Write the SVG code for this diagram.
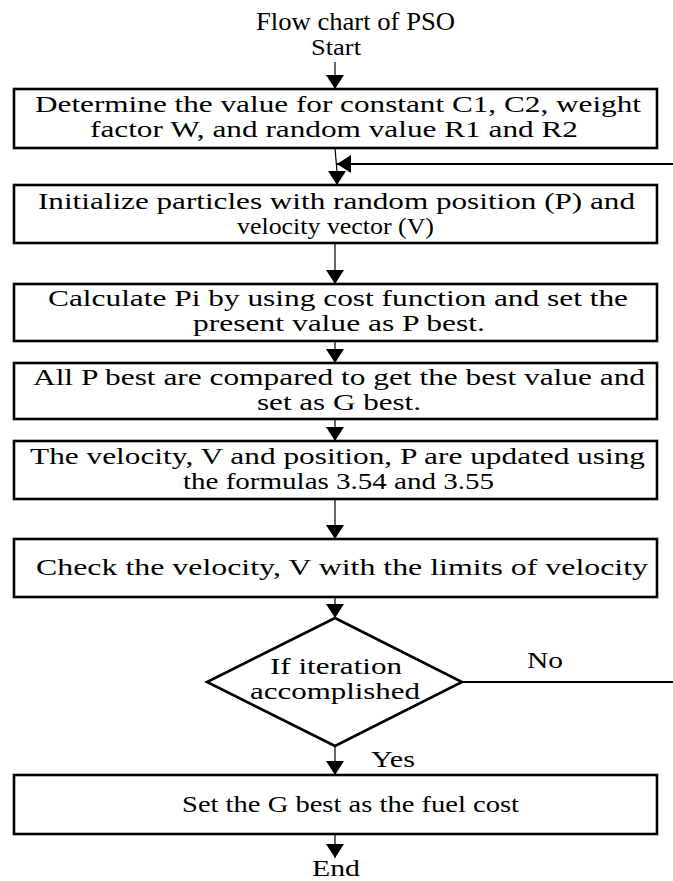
<svg xmlns="http://www.w3.org/2000/svg" width="673" height="881" viewBox="0 0 673 881">
<style>
text{font-family:"Liberation Serif","Times New Roman",serif;fill:#000;text-anchor:middle}
.t{font-size:24px}
.box{fill:#fff;stroke:#000;stroke-width:2.6}
.c{fill:none;stroke:#000;stroke-width:1.2}
.no{fill:none;stroke:#000;stroke-width:2}
</style>
<defs>
<marker id="ah" markerUnits="userSpaceOnUse" markerWidth="20" markerHeight="20" viewBox="0 0 20 20" refX="14" refY="10" orient="auto">
<path d="M0,1 L14,10 L0,19 Z" fill="#000"/>
</marker>
</defs>
<text class="t" x="355.5" y="30" style="font-size:25px" textLength="199" lengthAdjust="spacingAndGlyphs">Flow chart of PSO</text>
<text class="t" x="336" y="55" style="font-size:23px" textLength="50" lengthAdjust="spacingAndGlyphs">Start</text>
<g id="connectors">
<line class="c" x1="335" y1="62" x2="335" y2="89" marker-end="url(#ah)"/>
<polyline class="c" points="335,148 337,172 337,185" marker-end="url(#ah)"/>
<line class="c" x1="673" y1="164" x2="337" y2="164" marker-end="url(#ah)" style="stroke-width:2"/>
<line class="c" x1="335" y1="243" x2="335" y2="284" marker-end="url(#ah)"/>
<line class="c" x1="335" y1="341" x2="335" y2="363" marker-end="url(#ah)"/>
<line class="c" x1="335" y1="419" x2="335" y2="441" marker-end="url(#ah)"/>
<line class="c" x1="335" y1="499" x2="335" y2="539" marker-end="url(#ah)"/>
<line class="c" x1="335" y1="597" x2="335" y2="618" marker-end="url(#ah)"/>
<line class="no" x1="462" y1="682" x2="673" y2="682"/>
<line class="c" x1="335" y1="746" x2="335" y2="775" marker-end="url(#ah)"/>
<line class="c" x1="335" y1="834" x2="335" y2="858" marker-end="url(#ah)"/>
<text class="t" x="545" y="668" style="font-size:23px" textLength="36" lengthAdjust="spacingAndGlyphs">No</text>
<text class="t" x="393" y="767" style="font-size:23px" textLength="44" lengthAdjust="spacingAndGlyphs">Yes</text>
</g>
<g id="n1">
<rect class="box" x="14" y="89" width="643" height="59"/>
<text class="t" x="338" y="112" textLength="606" lengthAdjust="spacingAndGlyphs">Determine the value for constant C1, C2, weight</text>
<text class="t" x="334" y="137" textLength="488" lengthAdjust="spacingAndGlyphs">factor W, and random value R1 and R2</text>
</g>
<g id="n2">
<rect class="box" x="14" y="185" width="643" height="58"/>
<text class="t" x="336.5" y="209" textLength="597" lengthAdjust="spacingAndGlyphs">Initialize particles with random position (P) and</text>
<text class="t" x="335.5" y="234" textLength="197" lengthAdjust="spacingAndGlyphs">velocity vector (V)</text>
</g>
<g id="n3">
<rect class="box" x="14" y="284" width="643" height="57"/>
<text class="t" x="338" y="306" textLength="580" lengthAdjust="spacingAndGlyphs">Calculate Pi by using cost function and set the</text>
<text class="t" x="339" y="331" textLength="292" lengthAdjust="spacingAndGlyphs">present value as P best.</text>
</g>
<g id="n4">
<rect class="box" x="14" y="363" width="643" height="56"/>
<text class="t" x="339" y="385" textLength="612" lengthAdjust="spacingAndGlyphs">All P best are compared to get the best value and</text>
<text class="t" x="339" y="410" textLength="164" lengthAdjust="spacingAndGlyphs">set as G best.</text>
</g>
<g id="n5">
<rect class="box" x="14" y="441" width="643" height="58"/>
<text class="t" x="337.5" y="464" textLength="615" lengthAdjust="spacingAndGlyphs">The velocity, V and position, P are updated using</text>
<text class="t" x="338.5" y="489" textLength="311" lengthAdjust="spacingAndGlyphs">the formulas 3.54 and 3.55</text>
</g>
<g id="n6">
<rect class="box" x="14" y="539" width="643" height="58"/>
<text class="t" x="342" y="575" textLength="612" lengthAdjust="spacingAndGlyphs">Check the velocity, V with the limits of velocity</text>
</g>
<g id="n7">
<polygon class="box" points="335,618 462,682 335,746 207,682"/>
<text class="t" x="336" y="674" textLength="132" lengthAdjust="spacingAndGlyphs">If iteration</text>
<text class="t" x="335" y="699" textLength="170" lengthAdjust="spacingAndGlyphs">accomplished</text>
</g>
<g id="n8">
<rect class="box" x="14" y="775" width="643" height="59"/>
<text class="t" x="350.5" y="812" textLength="337" lengthAdjust="spacingAndGlyphs">Set the G best as the fuel cost</text>
</g>
<text class="t" x="336" y="876" style="font-size:23px" textLength="48" lengthAdjust="spacingAndGlyphs">End</text>
</svg>
